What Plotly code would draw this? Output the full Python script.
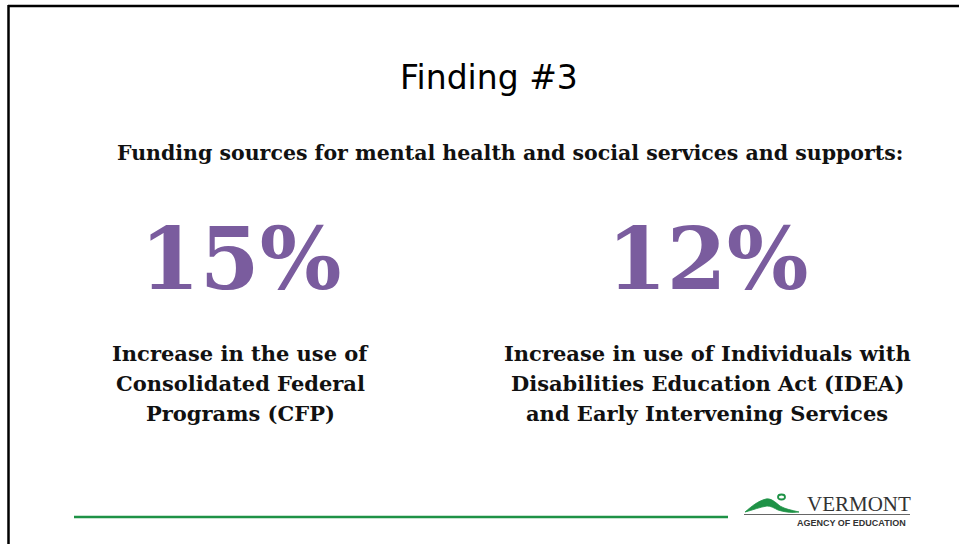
import plotly.graph_objects as go

W, H = 959, 544

title_text = "Finding #3"
subtitle_text = "Funding sources for mental health and social services and supports:"
stat_values = ["15%", "12%"]
stat_labels = [
    ["Increase in the use of", "Consolidated Federal", "Programs (CFP)"],
    ["Increase in use of Individuals with", "Disabilities Education Act (IDEA)", "and Early Intervening Services"],
]
stat_centers = [240, 707]
label_line_y = [353, 383, 413]

purple = "#7a5c9e"
green = "#1e9246"

fig = go.Figure()

ann = []
ann.append(dict(x=489, y=77, text=title_text, showarrow=False,
                font=dict(family="DejaVu Sans", size=33, color="#000"),
                xanchor="center", yanchor="middle"))
ann.append(dict(x=510, y=153, text="<b>" + subtitle_text + "</b>", showarrow=False,
                font=dict(family="DejaVu Serif", size=20.5, color="#111"),
                xanchor="center", yanchor="middle"))
for cx, v, lines in zip(stat_centers, stat_values, stat_labels):
    ann.append(dict(x=cx, y=258, text="<b>" + v + "</b>", showarrow=False,
                    font=dict(family="DejaVu Serif", size=86, color=purple),
                    xanchor="center", yanchor="middle"))
    for ly, line in zip(label_line_y, lines):
        ann.append(dict(x=cx, y=ly, text="<b>" + line + "</b>", showarrow=False,
                        font=dict(family="DejaVu Serif", size=21, color="#111"),
                        xanchor="center", yanchor="middle"))

# logo text
ann.append(dict(x=859, y=504, text="VERMONT", showarrow=False,
                font=dict(family="Liberation Serif", size=21, color="#333"),
                xanchor="center", yanchor="middle"))
ann.append(dict(x=851, y=523, text="<b>AGENCY OF EDUCATION</b>", showarrow=False,
                font=dict(family="Liberation Sans", size=9, color="#333"),
                xanchor="center", yanchor="middle"))

shapes = [
    # border (top and left)
    dict(type="line", x0=8, x1=W + 5, y0=6, y1=6, line=dict(color="#000", width=2.5)),
    dict(type="line", x0=8.5, x1=8.5, y0=5, y1=H + 5, line=dict(color="#000", width=2.5)),
    # green rule
    dict(type="line", x0=74, x1=728, y0=517, y1=517, line=dict(color=green, width=2.5)),
    # logo underline
    dict(type="line", x0=744, x1=910, y0=514.5, y1=514.5, line=dict(color="#666", width=1)),
    # logo swoosh (mountain)
    dict(type="path",
         path="M 745 512 C 752 506, 758 501, 766 499 C 771 498, 775 502, 780 506 "
              "C 785 509, 791 510, 799 512 C 791 513, 784 512, 778 510 "
              "C 774 508, 771 506, 767 506 C 760 507, 753 510, 745 512 Z",
         fillcolor=green, line=dict(color=green, width=0.8)),
    dict(type="circle", x0=778, x1=785, y0=494.5, y1=499.5,
         line=dict(color=green, width=1.8)),
]

fig.update_layout(
    width=W, height=H,
    margin=dict(l=0, r=0, t=0, b=0),
    paper_bgcolor="white", plot_bgcolor="white",
    xaxis=dict(range=[0, W], visible=False, fixedrange=True),
    yaxis=dict(range=[H, 0], visible=False, fixedrange=True),
    annotations=ann, shapes=shapes, showlegend=False,
)

fig.write_html("out.html")
